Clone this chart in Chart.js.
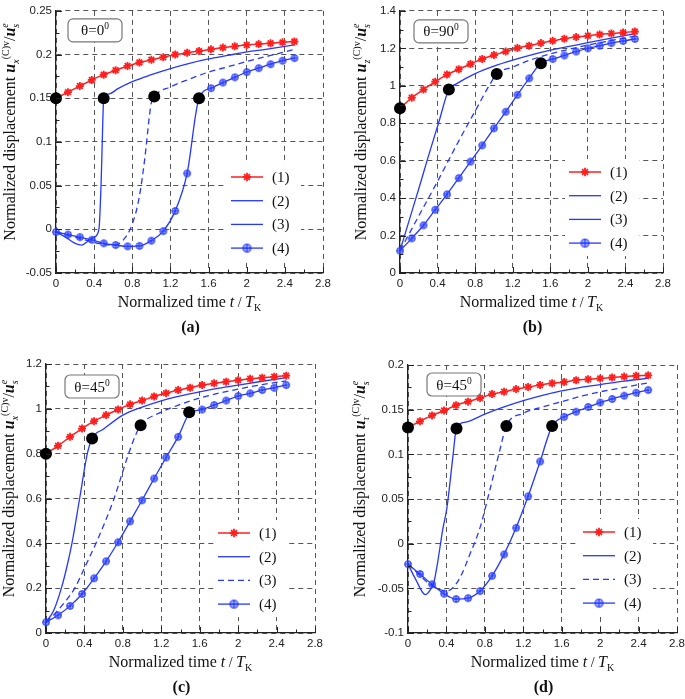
<!DOCTYPE html>
<html>
<head>
<meta charset="utf-8">
<script src="https://cdn.jsdelivr.net/npm/chart.js@4.4.1/dist/chart.umd.min.js"></script>
<style>
  html, body { margin: 0; padding: 0; background: #fff; overflow: hidden; width: 685px; height: 699px; }
  canvas { position: absolute; }
</style>
</head>
<body>
<canvas id="ca" width="340" height="340" style="left:0px;top:0px"></canvas>
<canvas id="cb" width="345" height="340" style="left:340px;top:0px"></canvas>
<canvas id="cc" width="340" height="359" style="left:0px;top:340px"></canvas>
<canvas id="cd" width="360" height="359" style="left:340px;top:340px"></canvas>
<script>
// time steps where the markers of (1) and (4) sit
const tMarks = [0, 0.125, 0.25, 0.375, 0.5, 0.625, 0.75, 0.875, 1, 1.125, 1.25, 1.375, 1.5, 1.625, 1.75, 1.875, 2, 2.125, 2.25, 2.375, 2.5]
const xTickLabels = ['0', '0.4', '0.8', '1.2', '1.6', '2', '2.4', '2.8']
const legendLabels = ['(1)', '(2)', '(3)', '(4)']
const panelLetters = ['(a)', '(b)', '(c)', '(d)']
const thetaText = ['θ=0', 'θ=90', 'θ=45', 'θ=45']
const uSub = ['x', 'z', 'x', 'τ']

// (a) theta = 0
const aYTicks = ['-0.05', '0', '0.05', '0.1', '0.15', '0.2', '0.25']
const a1 = [0.15, 0.157, 0.164, 0.171, 0.177, 0.182, 0.187, 0.191, 0.194, 0.197, 0.2, 0.202, 0.204, 0.206, 0.208, 0.2095, 0.211, 0.212, 0.213, 0.214, 0.215]
const a4 = [-0.003, -0.006, -0.009, -0.012, -0.016, -0.018, -0.0195, -0.019, -0.013, -0.002, 0.021, 0.064, 0.15, 0.1615, 0.168, 0.174, 0.18, 0.1845, 0.189, 0.193, 0.196]
const a2t = [0, 0.1, 0.2, 0.27, 0.34, 0.4, 0.45, 0.475, 0.49, 0.5, 0.56, 0.65, 0.8, 1, 1.2, 1.4, 1.6, 1.8, 2, 2.2, 2.5]
const a2y = [-0.003, -0.009, -0.016, -0.018, -0.013, -0.009, 0, 0.06, 0.12, 0.15, 0.155, 0.161, 0.169, 0.177, 0.184, 0.19, 0.195, 0.199, 0.203, 0.206, 0.211]
const a3t = [0, 0.1, 0.2, 0.3, 0.4, 0.5, 0.6, 0.7, 0.8, 0.87, 0.93, 0.98, 1, 1.03, 1.2, 1.4, 1.6, 1.8, 2, 2.25, 2.5]
const a3y = [-0.003, -0.006, -0.009, -0.012, -0.015, -0.017, -0.018, -0.013, 0.006, 0.035, 0.08, 0.13, 0.145, 0.152, 0.163, 0.172, 0.18, 0.186, 0.192, 0.199, 0.206]
const aDotT = [0, 0.5, 1.03, 1.5]
const aDotY = [0.15, 0.15, 0.152, 0.15]

// (b) theta = 90
const bYTicks = ['0', '0.2', '0.4', '0.6', '0.8', '1', '1.2', '1.4']
const b1 = [0.88, 0.936, 0.98, 1.022, 1.06, 1.088, 1.116, 1.143, 1.164, 1.183, 1.202, 1.214, 1.228, 1.24, 1.251, 1.26, 1.267, 1.274, 1.279, 1.284, 1.29]
const b4 = [0.119, 0.185, 0.255, 0.338, 0.42, 0.507, 0.595, 0.682, 0.773, 0.861, 0.952, 1.04, 1.12, 1.143, 1.162, 1.183, 1.2, 1.214, 1.228, 1.239, 1.25]
const b2t = [0, 0.1, 0.2, 0.3, 0.41, 0.52, 0.6, 0.8, 1, 1.2, 1.4, 1.6, 1.8, 2, 2.25, 2.5]
const b2y = [0.119, 0.285, 0.45, 0.62, 0.8, 0.98, 1.01, 1.065, 1.105, 1.137, 1.165, 1.19, 1.21, 1.23, 1.255, 1.278]
const b3t = [0, 0.2, 0.4, 0.62, 0.8, 0.96, 1.03, 1.2, 1.4, 1.6, 1.8, 2, 2.25, 2.5]
const b3y = [0.119, 0.305, 0.49, 0.7, 0.865, 1.01, 1.063, 1.1, 1.14, 1.17, 1.195, 1.217, 1.242, 1.265]
const bDotT = [0, 0.52, 1.03, 1.5]
const bDotY = [0.88, 0.98, 1.063, 1.12]

// (c) theta = 45
const cYTicks = ['0', '0.2', '0.4', '0.6', '0.8', '1', '1.2']
const c1 = [0.8, 0.835, 0.875, 0.912, 0.945, 0.972, 0.997, 1.02, 1.037, 1.055, 1.07, 1.084, 1.094, 1.106, 1.114, 1.121, 1.128, 1.134, 1.139, 1.143, 1.148]
const c4 = [0.048, 0.079, 0.121, 0.174, 0.244, 0.32, 0.405, 0.498, 0.592, 0.689, 0.783, 0.875, 0.982, 0.997, 1.017, 1.037, 1.057, 1.069, 1.084, 1.094, 1.106]
const c2t = [0, 0.08, 0.16, 0.22, 0.27, 0.35, 0.43, 0.48, 0.6, 0.8, 1, 1.2, 1.4, 1.6, 1.8, 2, 2.25, 2.5]
const c2y = [0.048, 0.1, 0.2, 0.3, 0.4, 0.6, 0.8, 0.868, 0.91, 0.972, 1.008, 1.036, 1.058, 1.076, 1.092, 1.106, 1.123, 1.139]
const c3t = [0, 0.1, 0.2, 0.3, 0.4, 0.53, 0.7, 0.86, 0.94, 0.985, 1.2, 1.4, 1.6, 1.8, 2, 2.25, 2.5]
const c3y = [0.048, 0.09, 0.14, 0.2, 0.29, 0.41, 0.59, 0.8, 0.89, 0.927, 0.985, 1.02, 1.048, 1.07, 1.088, 1.108, 1.125]
const cDotT = [0, 0.48, 0.985, 1.49]
const cDotY = [0.8, 0.868, 0.927, 0.985]

// (d) theta = 45
const dYTicks = ['-0.1', '-0.05', '0', '0.05', '0.1', '0.15', '0.2']
const d1 = [0.13, 0.137, 0.1436, 0.149, 0.155, 0.159, 0.163, 0.1675, 0.17, 0.173, 0.1753, 0.1776, 0.1795, 0.181, 0.183, 0.184, 0.185, 0.186, 0.187, 0.188, 0.1884]
const d4 = [-0.023, -0.034, -0.0455, -0.056, -0.062, -0.061, -0.053, -0.036, -0.012, 0.0177, 0.053, 0.092, 0.1316, 0.142, 0.1477, 0.153, 0.158, 0.162, 0.1656, 0.169, 0.172]
const d2t = [0, 0.08, 0.18, 0.23, 0.27, 0.31, 0.36, 0.405, 0.47, 0.505, 0.6, 0.8, 1, 1.2, 1.4, 1.6, 1.8, 2, 2.25, 2.5]
const d2y = [-0.023, -0.04, -0.057, -0.052, -0.043, -0.02, 0.015, 0.04, 0.1, 0.13, 0.136, 0.145, 0.153, 0.16, 0.166, 0.171, 0.175, 0.178, 0.182, 0.185]
const d3t = [0, 0.1, 0.2, 0.3, 0.4, 0.48, 0.56, 0.64, 0.75, 0.84, 0.945, 1.024, 1.2, 1.4, 1.6, 1.8, 2, 2.25, 2.5]
const d3y = [-0.023, -0.033, -0.043, -0.05, -0.053, -0.048, -0.034, -0.013, 0.018, 0.055, 0.1, 0.1316, 0.146, 0.153, 0.159, 0.165, 0.17, 0.175, 0.18]
const dDotT = [0, 0.505, 1.024, 1.5]
const dDotY = [0.13, 0.129, 0.1316, 0.1316]

const RED = '#ff1f1f'
const BLUE = '#2438ff'
const SERIF = '"Liberation Serif", "Times New Roman", serif'

function pts(t, y) {
  return t.map((v, i) => ({ x: v, y: y[i] }))
}

// circle with a plus inside, marker of (4)
function ringPlus(r) {
  const c = document.createElement('canvas')
  const s = Math.ceil(2 * r + 3)
  c.width = s; c.height = s
  const g = c.getContext('2d')
  g.strokeStyle = BLUE
  g.lineWidth = 1.1
  g.fillStyle = 'rgba(90,110,255,0.55)'
  g.beginPath(); g.arc(s / 2, s / 2, r, 0, Math.PI * 2); g.fill(); g.stroke()
  g.beginPath()
  g.moveTo(s / 2 - r, s / 2); g.lineTo(s / 2 + r, s / 2)
  g.moveTo(s / 2, s / 2 - r); g.lineTo(s / 2, s / 2 + r)
  g.stroke()
  return c
}
const ringImg = ringPlus(3.2)
const ringBig = ringPlus(4)

function star(c, x, y, r) {
  c.save()
  c.strokeStyle = RED
  c.lineWidth = 1.8
  c.beginPath()
  for (let k = 0; k < 4; k++) {
    const a = k * Math.PI / 4
    c.moveTo(x - r * Math.cos(a), y - r * Math.sin(a))
    c.lineTo(x + r * Math.cos(a), y + r * Math.sin(a))
  }
  c.stroke()
  c.restore()
}

// text made of pieces (sub/superscripts), centred on x
function runs(c, list, x, y) {
  let w = 0
  list.forEach(r => { c.font = r.f; r.w = c.measureText(r.t).width; if (!r.stay) w += r.w })
  let px = x - w / 2
  c.textAlign = 'left'
  c.textBaseline = 'alphabetic'
  list.forEach(r => {
    c.font = r.f
    c.fillText(r.t, px, y + (r.dy || 0))
    if (!r.stay) px += r.w
  })
}

function makePanel(p) {
  const deco = {
    id: 'deco',
    afterDatasetsDraw(chart) {
      const c = chart.ctx, a = chart.chartArea
      c.save()
      // theta box
      const bx = a.left + p.box[0], by = a.top + p.box[1]
      c.beginPath()
      c.roundRect(bx, by, 54, 23, 5)
      c.fillStyle = '#fff'; c.fill()
      c.strokeStyle = '#777'; c.lineWidth = 1.2; c.stroke()
      c.fillStyle = '#111'
      runs(c, [
        { t: thetaText[p.n], f: '15px ' + SERIF },
        { t: '0', f: '9.5px ' + SERIF, dy: -6 }
      ], bx + 27, by + 16.5)

      // legend
      const lx = a.right + p.legX, ly = a.bottom + p.legY, step = 23.7
      c.fillStyle = '#fff'
      c.fillRect(lx - 4, ly - 13, 74, step * 3 + 26)
      for (let k = 0; k < 4; k++) {
        const y = ly + k * step
        c.beginPath()
        c.setLineDash(k === 2 && p.dashLeg ? [6, 4] : [])
        c.strokeStyle = k === 0 ? RED : BLUE
        c.lineWidth = k === 0 ? 1.5 : 1.3
        c.moveTo(lx, y); c.lineTo(lx + 32, y); c.stroke()
        c.setLineDash([])
        if (k === 0) star(c, lx + 16, y, 4.2)
        if (k === 3) c.drawImage(ringBig, lx + 16 - ringBig.width / 2, y - ringBig.height / 2)
        c.fillStyle = '#111'
        c.font = '15px ' + SERIF
        c.textAlign = 'left'
        c.textBaseline = 'middle'
        c.fillText(legendLabels[k], lx + 41, y + 1)
      }
      c.restore()
    },
    afterDraw(chart) {
      const c = chart.ctx, a = chart.chartArea
      const xs = chart.scales.x, ys = chart.scales.y
      c.save()
      c.strokeStyle = '#222'
      c.lineWidth = 1
      c.setLineDash([])
      c.beginPath()
      xs.ticks.forEach((tk, i) => {
        const px = Math.round(xs.getPixelForValue(tk.value)) + 0.5
        c.moveTo(px, a.bottom); c.lineTo(px, a.bottom - 6)
        if (i < xs.ticks.length - 1) {
          const m = Math.round(xs.getPixelForValue((tk.value + xs.ticks[i + 1].value) / 2)) + 0.5
          c.moveTo(m, a.bottom); c.lineTo(m, a.bottom - 3.5)
        }
      })
      ys.ticks.forEach((tk, i) => {
        const py = Math.round(ys.getPixelForValue(tk.value)) + 0.5
        c.moveTo(a.left, py); c.lineTo(a.left + 6, py)
        if (i < ys.ticks.length - 1) {
          const m = Math.round(ys.getPixelForValue((tk.value + ys.ticks[i + 1].value) / 2)) + 0.5
          c.moveTo(a.left, m); c.lineTo(a.left + 3.5, m)
        }
      })
      c.stroke()

      c.fillStyle = '#111'
      // x title
      runs(c, [
        { t: 'Normalized time ', f: '16px ' + SERIF },
        { t: 't', f: 'italic 16px ' + SERIF },
        { t: ' / ', f: '14px ' + SERIF },
        { t: 'T', f: 'italic 16px ' + SERIF },
        { t: 'K', f: '10px ' + SERIF, dy: 4 }
      ], (a.left + a.right) / 2, a.bottom + 34)
      // panel letter
      c.font = 'bold 16px ' + SERIF
      c.textAlign = 'center'
      c.textBaseline = 'alphabetic'
      c.fillText(panelLetters[p.n], (a.left + a.right) / 2 + 1, a.bottom + 59)
      // y title
      c.translate(p.ytx, (a.top + a.bottom) / 2 - 10)
      c.rotate(-Math.PI / 2)
      runs(c, [
        { t: 'Normalized displacement ', f: '16px ' + SERIF },
        { t: 'u', f: 'italic bold 16px ' + SERIF },
        { t: uSub[p.n], f: 'italic 10px ' + SERIF, dy: 4 },
        { t: '(C)v', f: '10px ' + SERIF, dy: -6 },
        { t: '/', f: '16px ' + SERIF },
        { t: 'u', f: 'italic bold 16px ' + SERIF },
        { t: 's', f: 'italic 10px ' + SERIF, dy: 4, stay: true },
        { t: 'e', f: 'italic 10px ' + SERIF, dy: -7 }
      ], 0, 5)
      c.restore()
    }
  }

  const yMin = parseFloat(p.yTicks[0])
  const yMax = parseFloat(p.yTicks[p.yTicks.length - 1])
  const yStep = parseFloat(p.yTicks[1]) - yMin

  new Chart(document.getElementById(p.id), {
    type: 'line',
    data: {
      datasets: [
        { data: pts(p.dotT, p.dotY), showLine: false, pointRadius: 6, pointBackgroundColor: '#000', pointBorderColor: '#000', pointBorderWidth: 0, order: 0, clip: false },
        { data: pts(tMarks, p.s1), borderColor: RED, borderWidth: 1.5, pointStyle: 'star', pointRadius: 4, pointBorderColor: RED, pointBorderWidth: 1.8, cubicInterpolationMode: 'monotone', order: 1, clip: false },
        { data: pts(p.s2t, p.s2y), borderColor: BLUE, borderWidth: 1.3, pointRadius: 0, cubicInterpolationMode: 'monotone', order: 2, clip: false },
        { data: pts(p.s3t, p.s3y), borderColor: BLUE, borderWidth: 1.3, borderDash: [6, 4], pointRadius: 0, cubicInterpolationMode: 'monotone', order: 3, clip: false },
        { data: pts(tMarks, p.s4), borderColor: BLUE, borderWidth: 1.3, pointStyle: ringImg, pointRadius: 3.2, cubicInterpolationMode: 'monotone', order: 4, clip: false }
      ]
    },
    options: {
      responsive: false,
      animation: false,
      events: [],
      layout: { padding: { top: p.T, right: p.W - p.R, bottom: 0, left: 0 } },
      plugins: { legend: { display: false }, tooltip: { enabled: false } },
      scales: {
        x: {
          type: 'linear', min: 0, max: 2.8,
          afterFit: s => { s.height = p.H - p.B },
          ticks: { stepSize: 0.4, autoSkip: false, maxRotation: 0, padding: 4, color: '#222', font: { family: 'Liberation Sans', size: 11.5 }, callback: (v, i) => xTickLabels[i] },
          grid: { color: '#555', lineWidth: 1, drawTicks: false },
          border: { display: true, color: '#222', width: 1.3, dash: [5, 4] }
        },
        y: {
          type: 'linear', min: yMin, max: yMax,
          afterFit: s => { s.width = p.L },
          ticks: { stepSize: yStep, padding: 4, color: '#222', font: { family: 'Liberation Sans', size: 11.5 }, callback: (v, i) => p.yTicks[i] },
          grid: { color: '#555', lineWidth: 1, drawTicks: false },
          border: { display: true, color: '#222', width: 1.3, dash: [5, 4] }
        }
      }
    },
    plugins: [deco]
  })
}

makePanel({ n: 0, id: 'ca', W: 340, H: 340, L: 56, T: 6, R: 323, B: 273, yTicks: aYTicks,
  s1: a1, s4: a4, s2t: a2t, s2y: a2y, s3t: a3t, s3y: a3y, dotT: aDotT, dotY: aDotY,
  box: [12, 8], legX: -92, legY: -96, dashLeg: false, ytx: 10 })
makePanel({ n: 1, id: 'cb', W: 345, H: 340, L: 60, T: 6, R: 323, B: 273, yTicks: bYTicks,
  s1: b1, s4: b4, s2t: b2t, s2y: b2y, s3t: b3t, s3y: b3y, dotT: bDotT, dotY: bDotY,
  box: [14, 9], legX: -94, legY: -101, dashLeg: false, ytx: 21 })
makePanel({ n: 2, id: 'cc', W: 340, H: 359, L: 46, T: 24, R: 315, B: 293, yTicks: cYTicks,
  s1: c1, s4: c4, s2t: c2t, s2y: c2y, s3t: c3t, s3y: c3y, dotT: cDotT, dotY: cDotY,
  box: [19, 11], legX: -97, legY: -100, dashLeg: true, ytx: 9 })
makePanel({ n: 3, id: 'cd', W: 360, H: 359, L: 68, T: 25, R: 337, B: 293, yTicks: dYTicks,
  s1: d1, s4: d4, s2t: d2t, s2y: d2y, s3t: d3t, s3y: d3y, dotT: dDotT, dotY: dDotY,
  box: [19, 8], legX: -94, legY: -101, dashLeg: true, ytx: 20 })
</script>
</body>
</html>
